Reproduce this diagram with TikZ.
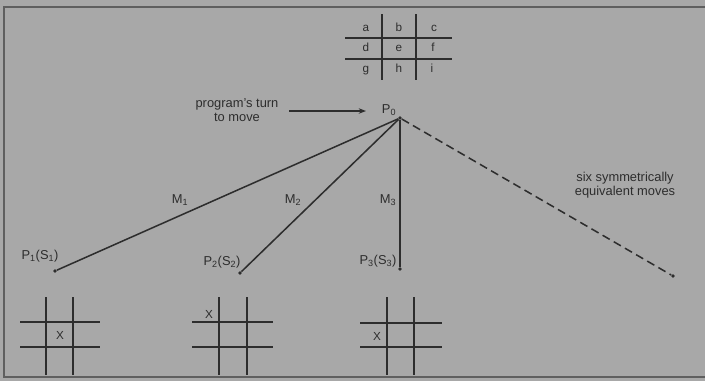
\documentclass[tikz,border=0pt]{standalone}
\usepackage{fontspec}
\setmainfont{Liberation Sans}
\usetikzlibrary{arrows.meta,positioning}
\definecolor{bggray}{RGB}{168,168,168}
\definecolor{ink}{RGB}{45,45,45}
\definecolor{framegray}{RGB}{95,95,95}
\tikzset{
  >={Stealth[length=2.2mm]},
  lbl/.style={font=\fontsize{11}{11.5}\selectfont, text=ink, inner sep=1pt, align=center},
  cell/.style={font=\fontsize{10}{10}\selectfont, text=ink, inner sep=0pt,
    text height=1.5ex, text depth=0.4ex},
  state/.style={circle, fill=ink, inner sep=0pt, minimum size=3.2pt},
  move/.style={draw=ink, line width=1.3pt},
  gridline/.style={draw=ink, line width=1.6pt},
}

\begin{document}
\begin{tikzpicture}[x=0.03cm, y=-0.03cm]
  \fill[bggray] (0,0) rectangle (705,381);
  \useasboundingbox (0,0) rectangle (705,381);
  \draw[framegray, line width=1.6pt] (4,7) rectangle (715,377);

  % board with the cell names
  \draw[gridline] (382,14) -- (382,80);
  \draw[gridline] (416,14) -- (416,80);
  \draw[gridline] (345,38) -- (452,38);
  \draw[gridline] (345,59) -- (452,59);
  \node[cell] (ca) at (366,28) {a};
  \node[cell] (cb) at (399,28) {b};
  \node[cell] (cc) at (434,28) {c};
  \node[cell] (cd) at (366,48) {d};
  \node[cell] (ce) at (399,48) {e};
  \node[cell] (cf) at (433,48) {f};
  \node[cell] (cg) at (366,69) {g};
  \node[cell] (ch) at (399,69) {h};
  \node[cell] (ci) at (432,69) {i};

  % positions
  \node[state] (p0) at (400,118) {};
  \node[state] (p1) at (55,271) {};
  \node[state] (p2) at (240,273) {};
  \node[state] (p3) at (400,269) {};
  \node[state] (p4) at (673,276) {};
  \node[lbl] (p0l) at (389,110) {P\textsubscript{0}};
  \node[lbl] (p1l) at (40,256) {P\textsubscript{1}(S\textsubscript{1})};
  \node[lbl] (p2l) at (222,262) {P\textsubscript{2}(S\textsubscript{2})};
  \node[lbl] (p3l) at (378,261) {P\textsubscript{3}(S\textsubscript{3})};

  \node[lbl] (turn) at (237,110) {program's turn\\to move};
  \coordinate (tip) at (366,111);
  \draw[->, ink, line width=1.1pt] (289,111) -- (tip);

  % moves
  \draw[move] (p0) -- (p1);
  \draw[move] (p0) -- (p2);
  \draw[move] (p0) -- (p3);
  \draw[move, dashed, dash pattern=on 7pt off 4pt] (p0) -- (p4);
  \node[lbl] (m1) at (180,200) {M\textsubscript{1}};
  \node[lbl] (m2) at (293,200) {M\textsubscript{2}};
  \node[lbl] (m3) at (388,200) {M\textsubscript{3}};
  \node[lbl] (six) at (625,185) {six symmetrically\\equivalent moves};

  % boards after the first move
  \draw[gridline] (46,297) -- (46,375);
  \draw[gridline] (73,297) -- (73,375);
  \draw[gridline] (20,322) -- (100,322);
  \draw[gridline] (20,347) -- (100,347);
  \node[cell] (x1) at (60,336) {X};

  \draw[gridline] (219,297) -- (219,375);
  \draw[gridline] (247,297) -- (247,375);
  \draw[gridline] (192,322) -- (273,322);
  \draw[gridline] (192,347) -- (273,347);
  \node[cell] (x2) at (209,315) {X};

  \draw[gridline] (387,297) -- (387,375);
  \draw[gridline] (414,297) -- (414,375);
  \draw[gridline] (360,323) -- (442,323);
  \draw[gridline] (360,347) -- (442,347);
  \node[cell] (x3) at (377,337) {X};
\end{tikzpicture}
\end{document}
